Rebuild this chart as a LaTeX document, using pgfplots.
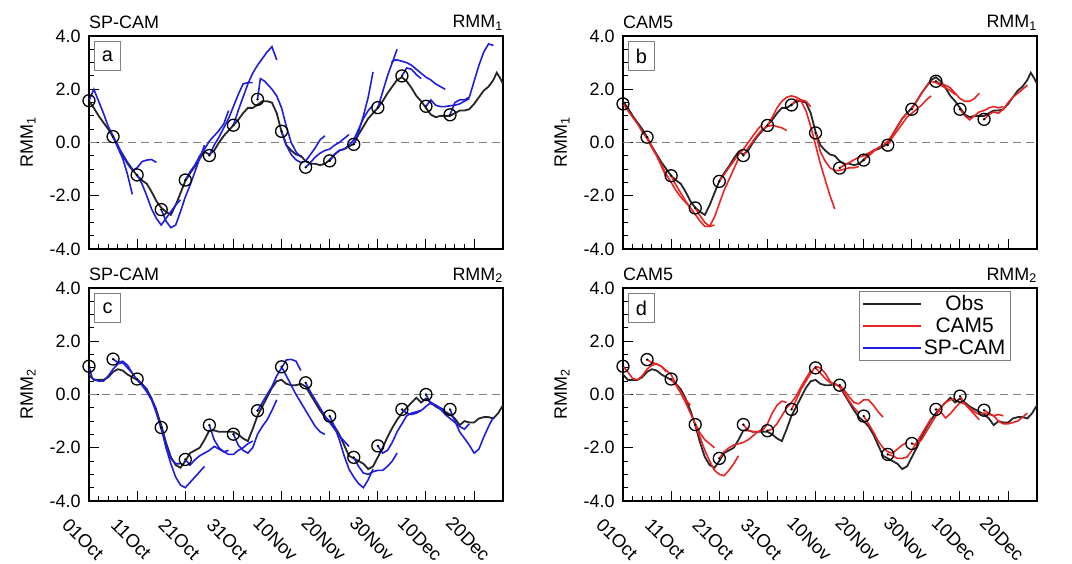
\documentclass[border=0pt]{standalone}
\usepackage{fontspec}
\setmainfont{Liberation Sans}
\usepackage{pgfplots}
\usepackage{pgfplotstable}
\pgfplotsset{compat=1.18}
\definecolor{fblue}{RGB}{30,30,225}
\definecolor{fred}{RGB}{235,35,35}
\pgfdeclareplotmark{cdot}{%
 \pgfpathcircle{\pgfqpoint{0pt}{0pt}}{\pgfplotmarksize}\pgfusepathqstroke
 \pgfpathcircle{\pgfqpoint{0pt}{0pt}}{1.3bp}\pgfusepathqfill}

\pgfplotstableread{
x y
0 1.55
1 1.3
2 1.0
3 0.75
4 0.5
5 0.2
6 -0.15
7 -0.45
8 -0.75
9 -1.0
10 -1.25
11 -1.42
12 -1.55
13 -1.85
14 -2.2
15 -2.45
16 -2.6
17 -2.72
18 -2.35
19 -1.9
20 -1.45
21 -1.15
22 -0.9
23 -0.6
24 -0.35
25 -0.45
26 -0.3
27 0.0
28 0.25
29 0.45
30 0.65
31 0.85
32 1.1
33 1.3
34 1.3
35 1.42
36 1.55
37 1.55
38 1.5
39 1.1
40 0.4
41 -0.1
42 -0.3
43 -0.45
44 -0.5
45 -0.7
46 -0.8
47 -0.8
48 -0.85
49 -0.8
50 -0.65
51 -0.45
52 -0.3
53 -0.25
54 -0.15
55 -0.05
56 0.3
57 0.6
58 0.9
59 1.1
60 1.3
61 1.55
62 1.85
63 2.1
64 2.35
65 2.45
66 2.3
67 2.05
68 1.75
69 1.55
70 1.3
71 1.05
72 0.95
73 1.0
74 1.0
75 1.0
76 1.1
77 1.2
78 1.2
79 1.25
80 1.45
81 1.7
82 1.95
83 2.1
84 2.35
84.7 2.62
85.3 2.45
86 2.2
}\obsone

\pgfplotstableread{
x y
0 0.75
1 0.55
2 0.55
3 0.55
4 0.65
5 0.85
6 0.95
7 0.9
8 0.75
9 0.65
10 0.55
11 0.4
12 0.2
13 -0.15
14 -0.6
15 -1.15
16 -1.8
17 -2.35
18 -2.65
19 -2.75
20 -2.5
21 -2.2
22 -2.1
23 -2.0
24 -1.7
25 -1.35
26 -1.35
27 -1.4
28 -1.4
29 -1.4
30 -1.4
31 -1.5
32 -1.65
33 -1.75
34 -1.3
35 -0.8
36 -0.45
37 -0.1
38 0.25
39 0.5
40 0.55
41 0.4
42 0.35
43 0.35
44 0.4
45 0.3
46 0.0
47 -0.3
48 -0.6
49 -0.85
50 -1.0
51 -1.2
52 -1.5
53 -1.9
54 -2.3
55 -2.4
56 -2.5
57 -2.6
58 -2.8
59 -2.7
60 -2.35
61 -2.0
62 -1.6
63 -1.25
64 -0.95
65 -0.7
66 -0.5
67 -0.3
68 -0.12
69 -0.3
70 -0.15
71 -0.3
72 -0.45
73 -0.55
74 -0.65
75 -0.75
76 -0.9
77 -1.15
78 -1.0
79 -1.05
80 -1.05
81 -0.9
82 -0.85
83 -0.85
84 -0.9
85 -0.7
86 -0.4
}\obstwo

\pgfplotstableread{
x y
0 1.57
5 0.22
10 -1.22
15 -2.52
20 -1.41
25 -0.49
30 0.65
35 1.62
40 0.42
45 -0.93
50 -0.69
55 -0.07
60 1.31
65 2.5
70 1.36
75 1.04
}\circa
\pgfplotstableread{
x y
0 1.45
5 0.2
10 -1.25
15 -2.46
20 -1.46
25 -0.49
30 0.64
35 1.41
40 0.36
45 -0.96
50 -0.66
55 -0.1
60 1.25
65 2.3
70 1.25
75 0.87
}\circb
\pgfplotstableread{
x y
0 1.06
5 1.33
10 0.58
15 -1.24
20 -2.44
25 -1.15
30 -1.49
35 -0.61
40 1.04
45 0.44
50 -0.81
55 -2.36
60 -1.93
65 -0.56
70 0.0
75 -0.56
}\circc
\pgfplotstableread{
x y
0 1.06
5 1.31
10 0.58
15 -1.13
20 -2.4
25 -1.13
30 -1.36
35 -0.56
40 1.0
45 0.35
50 -0.81
55 -2.25
60 -1.84
65 -0.56
70 -0.06
75 -0.59
}\circd

\pgfplotsset{
 panel/.style={scale only axis, width=414bp, height=213bp, anchor=south west,
  xmin=0,xmax=86,ymin=-4,ymax=4,
  xtick={0,10,...,80}, minor x tick num=4,
  ytick={-4,-2,0,2,4}, yticklabels={-4.0,-2.0,0.0,2.0,4.0}, minor y tick num=3,
  tick align=inside, tick pos=left,
  major tick length=10bp, minor tick length=5bp,
  tick style={black, line width=1bp},
  axis line style={line width=1.5bp},
  yticklabel style={font=\fontsize{18}{20}\selectfont, xshift=-5bp},
  ylabel style={at={(axis description cs:-0.147,0.5)}, anchor=center, font=\fontsize{18}{20}\selectfont},
 },
 toppanel/.style={xticklabels={}},
 botpanel/.style={xticklabels={01Oct,11Oct,21Oct,31Oct,10Nov,20Nov,30Nov,10Dec,20Dec},
  xticklabel style={font=\fontsize{18.5}{20}\selectfont, anchor=center, yshift=-38bp, xshift=-6bp, rotate=-45}},
 obs/.style={black!85, line width=1.8bp, forget plot},
 fcb/.style={fblue, line width=1.6bp, forget plot},
 fcr/.style={fred, line width=1.6bp, forget plot},
 circ/.style={only marks, mark=cdot, mark size=6bp, black, line width=1.3bp, forget plot},
 zero/.style={gray, dash pattern=on 8bp off 5bp, line width=1.1bp, forget plot},
}
\tikzset{ttl/.style={font=\fontsize{18}{20}\selectfont, inner sep=0pt},
 lbox/.style={draw=gray, line width=1bp, anchor=north west, minimum width=26bp, minimum height=29bp, inner sep=0pt, font=\fontsize{20}{22}\selectfont}}

\begin{document}
\begin{tikzpicture}
\useasboundingbox (0,0) rectangle (1072bp,564bp);

% ---------------- panel a
\begin{axis}[panel, toppanel, name=pa, at={(89bp,315bp)}, ylabel={RMM\textsubscript{1}}]
\addplot[zero] coordinates {(0,0)(86,0)};
\addplot[obs] table {\obsone};
\addplot[fcb] coordinates {(0,1.57)(1,2.0)(2,1.55)(3,1.1)(4,0.6)(5,0.25)(6,-0.2)(7,-0.6)(8,-1.2)(9,-1.95)};
\addplot[fcb] coordinates {(5,0.22)(6,-0.1)(7,-0.5)(8,-0.8)(9,-1.05)(10,-0.95)(11,-0.72)(12,-0.66)(13,-0.64)(14,-0.75)};
\addplot[fcb] coordinates {(10,-1.22)(11,-1.55)(12,-2.0)(13,-2.5)(14,-2.85)(15,-3.1)(16,-2.85)(17,-2.6)(18,-2.35)(19,-2.15)};
\addplot[fcb] coordinates {(15,-2.52)(16,-2.95)(17,-3.2)(18,-3.1)(19,-2.6)(20,-2.05)(21,-1.6)(22,-1.1)(23,-0.6)(24,-0.1)};
\addplot[fcb] coordinates {(20,-1.41)(21,-1.1)(22,-0.85)(23,-0.5)(24,-0.25)(25,0.05)(26,0.25)(27,0.45)(28,0.7)(29,1.2)};
\addplot[fcb] coordinates {(25,-0.49)(26,-0.1)(27,0.2)(28,0.55)(29,0.9)(30,1.35)(31,1.8)(32,2.2)(33,2.25)(34,2.25)};
\addplot[fcb] coordinates {(30,0.65)(31,1.2)(32,1.7)(33,2.2)(34,2.6)(35,2.9)(36,3.15)(37,3.4)(38,3.6)(39,3.1)};
\addplot[fcb] coordinates {(35,1.62)(35.6,2.4)(36.5,2.3)(38,2.0)(39,1.75)(40,1.3)(41,0.6)(42,0.0)(43,-0.35)(44,-0.55)};
\addplot[fcb] coordinates {(40,0.42)(41,-0.1)(42,-0.45)(43,-0.65)(44,-0.75)(45,-0.7)(46,-0.45)(47,-0.2)(48,0.1)(49,0.25)};
\addplot[fcb] coordinates {(45,-0.93)(46,-0.75)(47,-0.55)(48,-0.4)(49,-0.3)(50,-0.25)(51,-0.1)(52,0.0)(53,0.15)(54,0.3)};
\addplot[fcb] coordinates {(50,-0.69)(51,-0.45)(52,-0.3)(53,-0.25)(54,-0.1)(55,0.1)(56,0.5)(57,0.9)(58,1.2)(59,1.4)};
\addplot[fcb] coordinates {(55,-0.07)(56,0.4)(57,1.0)(58,1.7)(59,2.65)};
\addplot[fcb] coordinates {(60,1.31)(61,1.9)(62,2.5)(63,3.0)(64,3.5)};
\addplot[fcb] coordinates {(62.8,3.0)(63.5,3.1)(64,3.1)(65,3.05)(66,3.0)(67,2.9)(68,2.75)(69,2.6)(70,2.45)(71,2.35)(72,2.2)(73,2.1)(74,2.0)};
\addplot[fcb] coordinates {(65,2.5)(66,2.8)(67,2.75)(68,2.55)(69,2.4)};
\addplot[fcb] coordinates {(70,1.36)(71,1.6)(72,1.4)(73,1.35)(74,1.35)(75,1.38)(76,1.4)(77,1.45)(78,1.55)(79,1.65)};
\addplot[fcb] coordinates {(75,1.04)(76,1.5)(77,1.6)(78,1.6)(79,1.7)(80,2.3)(81,2.9)(82,3.4)(83,3.7)(84,3.65)};
\addplot[circ] table {\circa};
\end{axis}
\node[lbox] at ([xshift=5bp,yshift=-5bp]pa.north west) {a};
\node[ttl, anchor=base west] at ([yshift=7.5bp]pa.north west) {SP-CAM};
\node[ttl, anchor=base east] at ([yshift=8bp]pa.north east) {RMM\textsubscript{1}};

% ---------------- panel b
\begin{axis}[panel, toppanel, name=pb, at={(623bp,315bp)}, ylabel={RMM\textsubscript{1}}]
\addplot[zero] coordinates {(0,0)(86,0)};
\addplot[obs] table {\obsone};
\addplot[fcr] coordinates {(0,1.45)(1,1.2)(2,0.95)(3,0.7)(4,0.4)(5,0.15)(6,-0.2)(7,-0.5)(8,-0.9)(9,-1.3)};
\addplot[fcr] coordinates {(5,0.2)(6,-0.15)(7,-0.5)(8,-0.85)(9,-1.2)(10,-1.5)(11,-1.8)(12,-2.05)(13,-2.25)(14,-2.45)};
\addplot[fcr] coordinates {(10,-1.25)(11,-1.6)(12,-1.9)(13,-2.2)(14,-2.45)(15,-2.7)(16,-2.95)(17,-3.15)(18,-3.15)(19,-3.1)};
\addplot[fcr] coordinates {(15,-2.46)(16,-2.75)(17,-3.0)(18,-3.15)(19,-2.8)(20,-2.3)(21,-1.8)(22,-1.4)(23,-1.0)(24,-0.6)};
\addplot[fcr] coordinates {(20,-1.46)(21,-1.2)(22,-0.95)(23,-0.7)(24,-0.45)(25,-0.25)(26,0.0)(27,0.25)(28,0.5)(29,0.7)};
\addplot[fcr] coordinates {(25,-0.49)(26,-0.2)(27,0.05)(28,0.3)(29,0.5)(30,0.6)(31,0.65)(32,0.6)(33,0.55)(34,0.45)};
\addplot[fcr] coordinates {(30,0.64)(31,0.95)(32,1.3)(33,1.55)(34,1.7)(35,1.75)(36,1.7)(37,1.6)(38,1.55)(39,1.35)};
\addplot[fcr] coordinates {(35,1.41)(36,1.6)(37,1.55)(38,1.2)(39,0.6)(40,-0.1)(41,-0.8)(42,-1.4)(43,-2.0)(44,-2.5)};
\addplot[fcr] coordinates {(40,0.36)(41,-0.35)(42,-0.7)(43,-0.95)(44,-1.05)(45,-1.05)(46,-1.0)(47,-0.95)(48,-0.95)(49,-0.9)};
\addplot[fcr] coordinates {(45,-0.96)(46,-0.85)(47,-0.75)(48,-0.65)(49,-0.55)(50,-0.5)(51,-0.4)(52,-0.3)(53,-0.2)(54,-0.1)};
\addplot[fcr] coordinates {(50,-0.66)(51,-0.5)(52,-0.35)(53,-0.2)(54,-0.1)(55,0.05)(56,0.3)(57,0.6)(58,0.9)(59,1.1)};
\addplot[fcr] coordinates {(55,-0.1)(56,0.2)(57,0.45)(58,0.7)(59,0.95)(60,1.1)(61,1.25)(62,1.4)(63,1.6)(64,1.75)};
\addplot[fcr] coordinates {(60,1.25)(61,1.55)(62,1.85)(63,2.1)(64,2.3)(65,2.25)(66,2.15)(67,2.05)(68,1.95)(69,1.8)};
\addplot[fcr] coordinates {(65,2.3)(66,2.2)(67,2.15)(68,2.05)(69,1.85)(70,1.65)(71,1.55)(72,1.55)(73,1.65)(74,1.85)};
\addplot[fcr] coordinates {(70,1.25)(71,1.0)(72,0.85)(73,1.0)(74,1.15)(75,1.2)(76,1.3)(77,1.35)(78,1.3)(79,1.35)};
\addplot[fcr] coordinates {(75,0.87)(76,1.05)(77,1.15)(78,1.1)(79,1.25)(80,1.5)(81,1.7)(82,1.85)(83,2.0)(84,2.15)};
\addplot[circ] table {\circb};
\end{axis}
\node[lbox] at ([xshift=5bp,yshift=-5bp]pb.north west) {b};
\node[ttl, anchor=base west] at ([yshift=7.5bp]pb.north west) {CAM5};
\node[ttl, anchor=base east] at ([yshift=8bp]pb.north east) {RMM\textsubscript{1}};

% ---------------- panel c
\begin{axis}[panel, botpanel, name=pc, at={(89bp,63bp)}, ylabel={RMM\textsubscript{2}}]
\addplot[zero] coordinates {(0,0)(86,0)};
\addplot[obs] table {\obstwo};
\addplot[fcb] coordinates {(0,1.06)(0.7,0.6)(2,0.5)(3,0.5)(4,0.7)(5,0.95)(6,1.15)(7,1.2)(8,1.0)(9,0.8)};
\addplot[fcb] coordinates {(5,1.33)(6,1.2)(7,1.25)(8,1.1)(9,0.8)(10,0.55)(11,0.35)(12,0.1)(13,-0.2)(14,-0.55)};
\addplot[fcb] coordinates {(10,0.58)(11,0.4)(12,0.15)(13,-0.2)(14,-0.7)(15,-1.3)(16,-1.9)(17,-2.4)(18,-2.6)(19,-2.6)};
\addplot[fcb] coordinates {(15,-1.24)(16,-2.0)(17,-2.6)(18,-3.1)(19,-3.4)(20,-3.5)(21,-3.3)(22,-3.1)(23,-2.9)(24,-2.7)};
\addplot[fcb] coordinates {(20,-2.44)(21,-2.65)(22,-2.45)(23,-2.3)(24,-2.2)(25,-2.1)(26,-1.95)(27,-2.05)(28,-2.15)(29,-2.1)};
\addplot[fcb] coordinates {(25,-1.15)(26,-1.7)(27,-2.0)(28,-2.15)(29,-2.25)(30,-2.25)(31,-2.1)(32,-2.0)(33,-1.85)(34,-1.75)};
\addplot[fcb] coordinates {(30,-1.49)(31,-1.9)(32,-2.1)(33,-2.2)(34,-2.0)(35,-1.5)(36,-1.2)(37,-0.95)(38,-0.6)(39,-0.2)};
\addplot[fcb] coordinates {(35,-0.61)(36,-0.3)(37,0.0)(38,0.3)(39,0.7)(40,1.0)(41,1.3)(42,1.32)(43,1.25)(44,0.9)};
\addplot[fcb] coordinates {(40,1.04)(41,0.7)(42,0.35)(43,0.0)(44,-0.3)(45,-0.6)(46,-0.9)(47,-1.2)(48,-1.4)(49,-1.5)};
\addplot[fcb] coordinates {(45,0.44)(46,0.1)(47,-0.2)(48,-0.5)(49,-0.8)(50,-1.05)(51,-1.3)(52,-1.55)(53,-1.75)(54,-1.95)};
\addplot[fcb] coordinates {(50,-0.81)(51,-1.2)(52,-1.7)(53,-2.3)(54,-2.8)(55,-3.1)(56,-3.35)(57,-3.5)(58,-3.2)(59,-2.8)};
\addplot[fcb] coordinates {(55,-2.36)(56,-2.7)(57,-2.95)(58,-3.0)(59,-2.9)(60,-2.85)(61,-2.85)(62,-2.7)(63,-2.5)(64,-2.2)};
\addplot[fcb] coordinates {(60,-1.93)(61,-2.2)(62,-2.1)(63,-1.8)(64,-1.4)(65,-1.1)(66,-0.8)(67,-0.7)(68,-0.65)(69,-0.6)};
\addplot[fcb] coordinates {(65,-0.56)(66,-0.7)(67,-0.75)(68,-0.7)(69,-0.6)(70,-0.45)(71,-0.3)(72,-0.4)(73,-0.5)(74,-0.6)};
\addplot[fcb] coordinates {(70,0.0)(71,-0.35)(72,-0.4)(73,-0.55)(74,-0.75)(75,-0.9)(76,-1.05)(77,-1.2)(78,-1.3)(79,-1.1)};
\addplot[fcb] coordinates {(75,-0.56)(76,-1.0)(77,-1.4)(78,-1.65)(79,-1.9)(80,-2.2)(81,-2.05)(82,-1.6)(83,-1.2)(84,-0.85)};
\addplot[circ] table {\circc};
\end{axis}
\node[lbox] at ([xshift=5bp,yshift=-5bp]pc.north west) {c};
\node[ttl, anchor=base west] at ([yshift=7.5bp]pc.north west) {SP-CAM};
\node[ttl, anchor=base east] at ([yshift=8bp]pc.north east) {RMM\textsubscript{2}};

% ---------------- panel d
\begin{axis}[panel, botpanel, name=pd, at={(623bp,63bp)}, ylabel={RMM\textsubscript{2}},
  legend style={at={(rel axis cs:0.937,0.986)}, anchor=north east, draw=gray, line width=1.2bp,
   font=\fontsize{21}{22}\selectfont, inner xsep=3bp, inner ysep=2bp, row sep=2bp,
   /tikz/every even column/.append style={column sep=0bp}},
  legend cell align=center,
  legend image code/.code={\draw[#1] (0bp,0bp) -- (58bp,0bp);}]
\addlegendimage{black!85, line width=1.8bp}\addlegendentry{Obs}
\addlegendimage{fred, line width=1.8bp}\addlegendentry{CAM5}
\addlegendimage{fblue, line width=1.8bp}\addlegendentry{SP-CAM}
\addplot[zero] coordinates {(0,0)(86,0)};
\addplot[obs] table {\obstwo};
\addplot[fcr] coordinates {(0,1.06)(1,0.85)(2,0.6)(3,0.55)(4,0.7)(5,0.95)(6,1.1)(7,1.15)(8,1.05)(9,0.85)};
\addplot[fcr] coordinates {(5,1.31)(6,1.2)(7,1.15)(8,1.05)(9,0.9)(10,0.75)(11,0.4)(12,0.1)(13,-0.2)(14,-0.4)};
\addplot[fcr] coordinates {(10,0.58)(11,0.35)(12,0.05)(13,-0.3)(14,-0.7)(15,-1.1)(16,-1.45)(17,-1.7)(18,-1.85)(19,-2.0)};
\addplot[fcr] coordinates {(15,-1.13)(16,-1.6)(17,-2.1)(18,-2.5)(19,-2.85)(20,-3.0)(21,-3.05)(22,-2.85)(23,-2.6)(24,-2.3)};
\addplot[fcr] coordinates {(20,-2.4)(21,-2.15)(22,-2.0)(23,-1.9)(24,-1.85)(25,-1.8)(26,-1.7)(27,-1.55)(28,-1.4)(29,-1.3)};
\addplot[fcr] coordinates {(25,-1.13)(26,-1.35)(27,-1.4)(28,-1.4)(29,-1.35)(30,-1.1)(31,-0.7)(32,-0.4)(33,-0.25)(34,-0.3)};
\addplot[fcr] coordinates {(30,-1.36)(31,-1.3)(32,-1.1)(33,-0.8)(34,-0.5)(35,-0.3)(36,-0.05)(37,0.3)(38,0.6)(39,0.9)};
\addplot[fcr] coordinates {(35,-0.56)(36,-0.2)(37,0.2)(38,0.5)(39,0.8)(40,1.05)(41,1.0)(42,0.8)(43,0.5)(44,0.3)};
\addplot[fcr] coordinates {(40,1.0)(41,0.8)(42,0.6)(43,0.45)(44,0.4)(45,0.3)(46,0.05)(47,-0.25)(48,-0.5)(49,-0.7)};
\addplot[fcr] coordinates {(45,0.35)(46,0.15)(47,-0.1)(48,-0.3)(49,-0.35)(50,-0.2)(51,-0.2)(52,-0.4)(53,-0.65)(54,-0.85)};
\addplot[fcr] coordinates {(50,-0.81)(51,-1.1)(52,-1.4)(53,-1.75)(54,-2.0)(55,-2.15)(56,-2.2)(57,-2.05)(58,-1.9)(59,-1.8)};
\addplot[fcr] coordinates {(55,-2.25)(56,-2.3)(57,-2.4)(58,-2.4)(59,-2.35)(60,-2.1)(61,-1.8)(62,-1.5)(63,-1.2)(64,-0.9)};
\addplot[fcr] coordinates {(60,-1.84)(61,-1.9)(62,-1.7)(63,-1.4)(64,-1.1)(65,-0.8)(66,-0.5)(67,-0.3)(68,-0.2)(69,-0.15)};
\addplot[fcr] coordinates {(65,-0.56)(66,-0.65)(67,-0.88)(68,-0.72)(69,-0.5)(70,-0.3)(71,-0.35)(72,-0.55)(73,-0.75)(74,-0.95)};
\addplot[fcr] coordinates {(70,-0.06)(71,-0.35)(72,-0.5)(73,-0.65)(74,-0.75)(75,-0.7)(76,-0.75)(77,-0.8)(78,-0.75)(79,-0.8)};
\addplot[fcr] coordinates {(75,-0.59)(76,-0.7)(77,-0.8)(78,-1.0)(79,-1.1)(80,-1.1)(81,-1.05)(82,-1.0)(83,-0.85)(84,-0.7)};
\addplot[circ] table {\circd};
\end{axis}
\node[lbox] at ([xshift=5bp,yshift=-5bp]pd.north west) {d};
\node[ttl, anchor=base west] at ([yshift=7.5bp]pd.north west) {CAM5};
\node[ttl, anchor=base east] at ([yshift=8bp]pd.north east) {RMM\textsubscript{2}};
\end{tikzpicture}
\end{document}
